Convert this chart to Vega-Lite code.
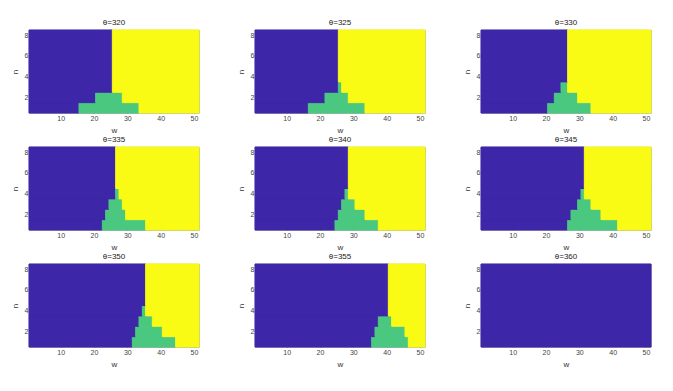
{
  "$schema": "https://vega.github.io/schema/vega-lite/v6.json",
  "padding": {"left": 10, "top": 18, "right": 0, "bottom": 0},
  "background": "white",
  "data": {"values": [
    {"t":320,"n0":0.5,"n1":1.5,"w0":0.5,"w1":15.5,"c":0},
    {"t":320,"n0":0.5,"n1":1.5,"w0":15.5,"w1":33.5,"c":1},
    {"t":320,"n0":0.5,"n1":1.5,"w0":33.5,"w1":51.5,"c":2},
    {"t":320,"n0":1.5,"n1":2.5,"w0":0.5,"w1":20.5,"c":0},
    {"t":320,"n0":1.5,"n1":2.5,"w0":20.5,"w1":28.5,"c":1},
    {"t":320,"n0":1.5,"n1":2.5,"w0":28.5,"w1":51.5,"c":2},
    {"t":320,"n0":2.5,"n1":8.5,"w0":0.5,"w1":25.5,"c":0},
    {"t":320,"n0":2.5,"n1":8.5,"w0":25.5,"w1":51.5,"c":2},

    {"t":325,"n0":0.5,"n1":1.5,"w0":0.5,"w1":16.5,"c":0},
    {"t":325,"n0":0.5,"n1":1.5,"w0":16.5,"w1":33.5,"c":1},
    {"t":325,"n0":0.5,"n1":1.5,"w0":33.5,"w1":51.5,"c":2},
    {"t":325,"n0":1.5,"n1":2.5,"w0":0.5,"w1":21.5,"c":0},
    {"t":325,"n0":1.5,"n1":2.5,"w0":21.5,"w1":28.5,"c":1},
    {"t":325,"n0":1.5,"n1":2.5,"w0":28.5,"w1":51.5,"c":2},
    {"t":325,"n0":2.5,"n1":3.5,"w0":0.5,"w1":25.5,"c":0},
    {"t":325,"n0":2.5,"n1":3.5,"w0":25.5,"w1":26.5,"c":1},
    {"t":325,"n0":2.5,"n1":3.5,"w0":26.5,"w1":51.5,"c":2},
    {"t":325,"n0":3.5,"n1":8.5,"w0":0.5,"w1":25.5,"c":0},
    {"t":325,"n0":3.5,"n1":8.5,"w0":25.5,"w1":51.5,"c":2},

    {"t":330,"n0":0.5,"n1":1.5,"w0":0.5,"w1":20.5,"c":0},
    {"t":330,"n0":0.5,"n1":1.5,"w0":20.5,"w1":33.5,"c":1},
    {"t":330,"n0":0.5,"n1":1.5,"w0":33.5,"w1":51.5,"c":2},
    {"t":330,"n0":1.5,"n1":2.5,"w0":0.5,"w1":22.5,"c":0},
    {"t":330,"n0":1.5,"n1":2.5,"w0":22.5,"w1":29.5,"c":1},
    {"t":330,"n0":1.5,"n1":2.5,"w0":29.5,"w1":51.5,"c":2},
    {"t":330,"n0":2.5,"n1":3.5,"w0":0.5,"w1":24.5,"c":0},
    {"t":330,"n0":2.5,"n1":3.5,"w0":24.5,"w1":26.5,"c":1},
    {"t":330,"n0":2.5,"n1":3.5,"w0":26.5,"w1":51.5,"c":2},
    {"t":330,"n0":3.5,"n1":8.5,"w0":0.5,"w1":26.5,"c":0},
    {"t":330,"n0":3.5,"n1":8.5,"w0":26.5,"w1":51.5,"c":2},

    {"t":335,"n0":0.5,"n1":1.5,"w0":0.5,"w1":22.5,"c":0},
    {"t":335,"n0":0.5,"n1":1.5,"w0":22.5,"w1":35.5,"c":1},
    {"t":335,"n0":0.5,"n1":1.5,"w0":35.5,"w1":51.5,"c":2},
    {"t":335,"n0":1.5,"n1":2.5,"w0":0.5,"w1":23.5,"c":0},
    {"t":335,"n0":1.5,"n1":2.5,"w0":23.5,"w1":29.5,"c":1},
    {"t":335,"n0":1.5,"n1":2.5,"w0":29.5,"w1":51.5,"c":2},
    {"t":335,"n0":2.5,"n1":3.5,"w0":0.5,"w1":24.5,"c":0},
    {"t":335,"n0":2.5,"n1":3.5,"w0":24.5,"w1":28.5,"c":1},
    {"t":335,"n0":2.5,"n1":3.5,"w0":28.5,"w1":51.5,"c":2},
    {"t":335,"n0":3.5,"n1":4.5,"w0":0.5,"w1":26.5,"c":0},
    {"t":335,"n0":3.5,"n1":4.5,"w0":26.5,"w1":27.5,"c":1},
    {"t":335,"n0":3.5,"n1":4.5,"w0":27.5,"w1":51.5,"c":2},
    {"t":335,"n0":4.5,"n1":8.5,"w0":0.5,"w1":26.5,"c":0},
    {"t":335,"n0":4.5,"n1":8.5,"w0":26.5,"w1":51.5,"c":2},

    {"t":340,"n0":0.5,"n1":1.5,"w0":0.5,"w1":24.5,"c":0},
    {"t":340,"n0":0.5,"n1":1.5,"w0":24.5,"w1":37.5,"c":1},
    {"t":340,"n0":0.5,"n1":1.5,"w0":37.5,"w1":51.5,"c":2},
    {"t":340,"n0":1.5,"n1":2.5,"w0":0.5,"w1":25.5,"c":0},
    {"t":340,"n0":1.5,"n1":2.5,"w0":25.5,"w1":33.5,"c":1},
    {"t":340,"n0":1.5,"n1":2.5,"w0":33.5,"w1":51.5,"c":2},
    {"t":340,"n0":2.5,"n1":3.5,"w0":0.5,"w1":26.5,"c":0},
    {"t":340,"n0":2.5,"n1":3.5,"w0":26.5,"w1":30.5,"c":1},
    {"t":340,"n0":2.5,"n1":3.5,"w0":30.5,"w1":51.5,"c":2},
    {"t":340,"n0":3.5,"n1":4.5,"w0":0.5,"w1":27.5,"c":0},
    {"t":340,"n0":3.5,"n1":4.5,"w0":27.5,"w1":28.5,"c":1},
    {"t":340,"n0":3.5,"n1":4.5,"w0":28.5,"w1":51.5,"c":2},
    {"t":340,"n0":4.5,"n1":8.5,"w0":0.5,"w1":28.5,"c":0},
    {"t":340,"n0":4.5,"n1":8.5,"w0":28.5,"w1":51.5,"c":2},

    {"t":345,"n0":0.5,"n1":1.5,"w0":0.5,"w1":26.5,"c":0},
    {"t":345,"n0":0.5,"n1":1.5,"w0":26.5,"w1":41.5,"c":1},
    {"t":345,"n0":0.5,"n1":1.5,"w0":41.5,"w1":51.5,"c":2},
    {"t":345,"n0":1.5,"n1":2.5,"w0":0.5,"w1":27.5,"c":0},
    {"t":345,"n0":1.5,"n1":2.5,"w0":27.5,"w1":36.5,"c":1},
    {"t":345,"n0":1.5,"n1":2.5,"w0":36.5,"w1":51.5,"c":2},
    {"t":345,"n0":2.5,"n1":3.5,"w0":0.5,"w1":29.5,"c":0},
    {"t":345,"n0":2.5,"n1":3.5,"w0":29.5,"w1":33.5,"c":1},
    {"t":345,"n0":2.5,"n1":3.5,"w0":33.5,"w1":51.5,"c":2},
    {"t":345,"n0":3.5,"n1":4.5,"w0":0.5,"w1":30.5,"c":0},
    {"t":345,"n0":3.5,"n1":4.5,"w0":30.5,"w1":31.5,"c":1},
    {"t":345,"n0":3.5,"n1":4.5,"w0":31.5,"w1":51.5,"c":2},
    {"t":345,"n0":4.5,"n1":8.5,"w0":0.5,"w1":31.5,"c":0},
    {"t":345,"n0":4.5,"n1":8.5,"w0":31.5,"w1":51.5,"c":2},

    {"t":350,"n0":0.5,"n1":1.5,"w0":0.5,"w1":31.5,"c":0},
    {"t":350,"n0":0.5,"n1":1.5,"w0":31.5,"w1":44.5,"c":1},
    {"t":350,"n0":0.5,"n1":1.5,"w0":44.5,"w1":51.5,"c":2},
    {"t":350,"n0":1.5,"n1":2.5,"w0":0.5,"w1":32.5,"c":0},
    {"t":350,"n0":1.5,"n1":2.5,"w0":32.5,"w1":40.5,"c":1},
    {"t":350,"n0":1.5,"n1":2.5,"w0":40.5,"w1":51.5,"c":2},
    {"t":350,"n0":2.5,"n1":3.5,"w0":0.5,"w1":33.5,"c":0},
    {"t":350,"n0":2.5,"n1":3.5,"w0":33.5,"w1":37.5,"c":1},
    {"t":350,"n0":2.5,"n1":3.5,"w0":37.5,"w1":51.5,"c":2},
    {"t":350,"n0":3.5,"n1":4.5,"w0":0.5,"w1":34.5,"c":0},
    {"t":350,"n0":3.5,"n1":4.5,"w0":34.5,"w1":35.5,"c":1},
    {"t":350,"n0":3.5,"n1":4.5,"w0":35.5,"w1":51.5,"c":2},
    {"t":350,"n0":4.5,"n1":8.5,"w0":0.5,"w1":35.5,"c":0},
    {"t":350,"n0":4.5,"n1":8.5,"w0":35.5,"w1":51.5,"c":2},

    {"t":355,"n0":0.5,"n1":1.5,"w0":0.5,"w1":35.5,"c":0},
    {"t":355,"n0":0.5,"n1":1.5,"w0":35.5,"w1":46.5,"c":1},
    {"t":355,"n0":0.5,"n1":1.5,"w0":46.5,"w1":51.5,"c":2},
    {"t":355,"n0":1.5,"n1":2.5,"w0":0.5,"w1":36.5,"c":0},
    {"t":355,"n0":1.5,"n1":2.5,"w0":36.5,"w1":45.5,"c":1},
    {"t":355,"n0":1.5,"n1":2.5,"w0":45.5,"w1":51.5,"c":2},
    {"t":355,"n0":2.5,"n1":3.5,"w0":0.5,"w1":37.5,"c":0},
    {"t":355,"n0":2.5,"n1":3.5,"w0":37.5,"w1":41.5,"c":1},
    {"t":355,"n0":2.5,"n1":3.5,"w0":41.5,"w1":51.5,"c":2},
    {"t":355,"n0":3.5,"n1":8.5,"w0":0.5,"w1":40.5,"c":0},
    {"t":355,"n0":3.5,"n1":8.5,"w0":40.5,"w1":51.5,"c":2},

    {"t":360,"n0":0.5,"n1":8.5,"w0":0.5,"w1":51.5,"c":0}
  ]},
  "facet": {
    "field": "t", "type": "ordinal",
    "header": {"title": null, "labelExpr": "'θ=' + datum.value", "labelFontSize": 8, "labelPadding": 3, "labelFont": "Liberation Sans", "labelColor": "#222"}
  },
  "columns": 3,
  "spacing": {"column": 36, "row": 0},
  "resolve": {"axis": {"x": "independent", "y": "independent"}},
  "spec": {
    "width": 170,
    "height": 83,
    "mark": {"type": "rect", "strokeWidth": 1},
    "encoding": {
      "x": {"field": "w0", "type": "quantitative", "scale": {"domain": [0.5, 51.5], "nice": false, "zero": false},
            "axis": {"values": [10, 20, 30, 40, 50], "title": "w"}},
      "x2": {"field": "w1"},
      "y": {"field": "n0", "type": "quantitative", "scale": {"domain": [0.5, 8.5], "nice": false, "zero": false},
            "axis": {"values": [2, 4, 6, 8], "title": "n"}},
      "y2": {"field": "n1"},
      "color": {"field": "c", "type": "nominal", "scale": {"domain": [0, 1, 2], "range": ["#3e26a8", "#4ac880", "#f9fb15"]}, "legend": null},
      "stroke": {"field": "c", "type": "nominal", "scale": {"domain": [0, 1, 2], "range": ["#3e26a8", "#4ac880", "#f9fb15"]}, "legend": null}
    }
  },
  "config": {
    "view": {"stroke": "#8a8a8a", "strokeWidth": 0.8},
    "axis": {
      "domain": false, "grid": false,
      "tickSize": -2, "tickColor": "#555", "tickWidth": 0.6,
      "labelFont": "Liberation Sans", "labelFontSize": 7, "labelColor": "#444", "labelPadding": 3,
      "titleFont": "Liberation Sans", "titleFontSize": 8, "titleFontWeight": "normal", "titleColor": "#333"
    },
    "axisX": {"titlePadding": 5},
    "axisY": {"titlePadding": 5}
  }
}
